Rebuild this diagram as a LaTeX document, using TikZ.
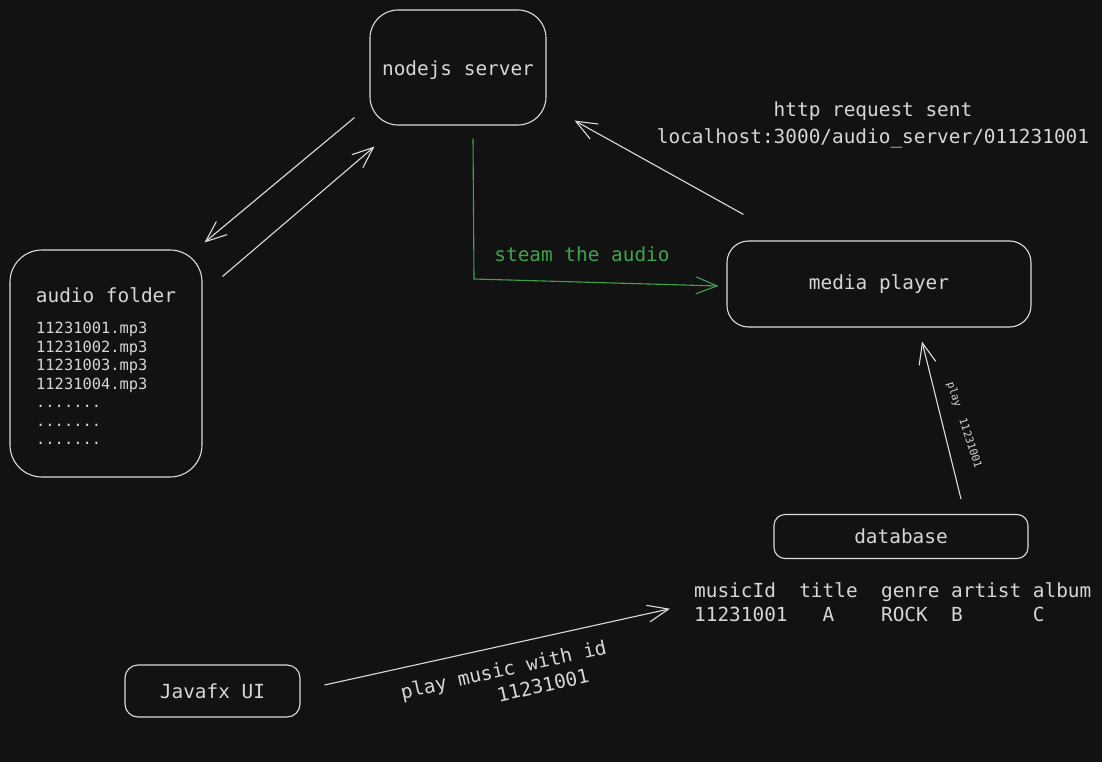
\documentclass[tikz,border=0pt]{standalone}
\usepackage{fontspec}
\setmainfont{DejaVu Sans Mono}
\usetikzlibrary{arrows.meta,calc}
\definecolor{bg}{HTML}{121212}
\definecolor{ink}{HTML}{DCDCDC}
\definecolor{txt}{HTML}{D6D6D6}
\definecolor{grn}{HTML}{3FA34D}
\begin{document}
\begin{tikzpicture}[x=1pt,y=-1pt,
  box/.style={draw=ink,line width=1.1pt,rectangle,inner sep=0pt,text=txt,font=\fontsize{19.4}{24}\selectfont},
  lbl/.style={text=txt,font=\fontsize{19.4}{24}\selectfont,inner sep=0pt},
  conn/.style={draw=ink,line width=1.1pt,-{Straight Barb[length=21pt,width=17pt]}},
]
\fill[bg] (0,0) rectangle (1102,762);
\useasboundingbox (0,0) rectangle (1102,762);

% boxes
\node[box,rounded corners=28pt,minimum width=176pt,minimum height=115pt,text height=20pt] (server) at (458,67.5) {nodejs server};
\node[box,rounded corners=32pt,minimum width=192pt,minimum height=227pt] (folder) at (106,363.5) {};
\node[box,rounded corners=21.5pt,minimum width=304pt,minimum height=86pt] (player) at (879,284) {media player};
\node[box,rounded corners=11pt,minimum width=254pt,minimum height=44pt] (db) at (901,536.5) {database};
\node[box,rounded corners=13pt,minimum width=175pt,minimum height=52pt] (ui) at (212.5,691) {Javafx UI};

% folder contents
\node[lbl] (foldert) at (106,295) {audio folder};
\node[text=txt,font=\fontsize{15.4}{18.5}\selectfont,align=left,anchor=north west,inner sep=0pt] (files) at (36,322)
  {11231001.mp3\\11231002.mp3\\11231003.mp3\\11231004.mp3\\.......\\.......\\.......};

% table
\node[lbl,align=left,anchor=north west] (table) at (694,582)
  {musicId\ \ title\ \ genre\ artist\ album\\11231001\ \ \ A\ \ \ \ ROCK\ \ B\ \ \ \ \ \ C};

% labels
\node[lbl,align=center,font=\fontsize{19.4}{27}\selectfont] (http) at (873,125) {http request sent\\localhost:3000/audio\_server/011231001};
\node[lbl,text=grn] (steam) at (582,254) {steam the audio};
\node[text=txt,font=\fontsize{10.7}{13}\selectfont,rotate=-72,inner sep=0pt] (playlbl) at (964,425) {play\ \ 11231001};
\node[lbl,rotate=12.5,align=left] (uilbl) at (506,681) {play music with id\\\phantom{00000000}11231001};

% connectors
\draw[conn] ($(server.south west)+(-15,-8)$) -- ($(folder.north east)+(2,-7)$);
\draw[conn] ($(folder.north east)+(20,27)$) -- ($(server.south west)+(5,21)$);
\draw[conn] ($(player.north west)+(17,-26)$) -- ($(server.south east)+(28,-5)$);
\coordinate (bend) at (474,279);
\draw[conn,draw=grn] ($(server.south)+(15,13)$) -- (bend) -- ($(player.west)+(-8,2)$);
\draw[conn] ($(db.north)+(60,-15)$) -- ($(player.south)+(43,14)$);
\draw[conn] ($(ui.east)+(24,-6)$) -- ($(table.west)+(-24,7)$);
\end{tikzpicture}
\end{document}
